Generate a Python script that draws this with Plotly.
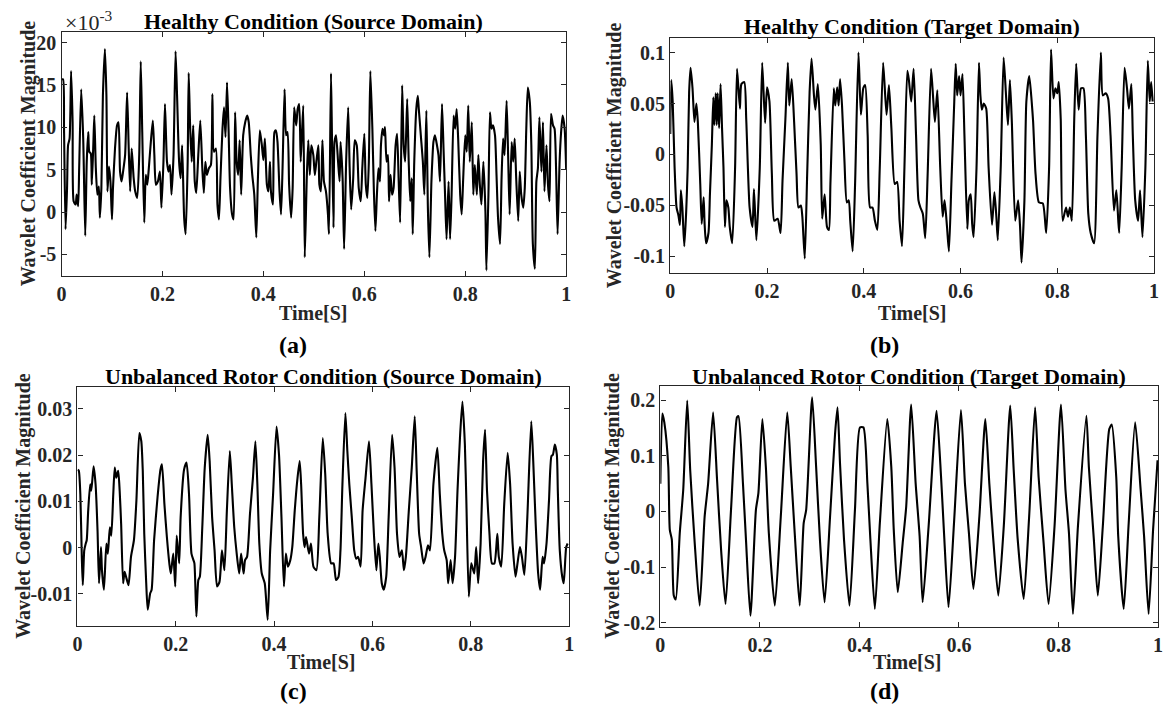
import plotly.graph_objects as go

# ---------------- data ----------------
# (a) Healthy condition, source domain  (values in units of 1e-3)
time_a = [
    0.000,0.003,0.005,0.008,0.011,0.013,0.016,0.019,0.022,0.024,
    0.028,0.030,0.033,0.035,0.039,0.043,0.047,0.050,0.053,0.055,
    0.058,0.060,0.063,0.065,0.068,0.071,0.074,0.076,0.079,0.082,
    0.086,0.089,0.091,0.094,0.097,0.100,0.102,0.106,0.110,0.113,
    0.116,0.119,0.122,0.126,0.130,0.133,0.136,0.139,0.143,0.146,
    0.150,0.154,0.157,0.160,0.164,0.167,0.170,0.173,0.177,0.181,
    0.184,0.187,0.191,0.195,0.198,0.202,0.205,0.209,0.212,0.215,
    0.218,0.222,0.226,0.229,0.233,0.236,0.239,0.243,0.246,0.250,
    0.252,0.255,0.258,0.261,0.264,0.267,0.271,0.275,0.279,0.282,
    0.285,0.288,0.292,0.296,0.299,0.302,0.306,0.309,0.312,0.315,
    0.319,0.322,0.325,0.328,0.331,0.334,0.338,0.341,0.344,0.347,
    0.350,0.353,0.356,0.360,0.364,0.368,0.371,0.375,0.378,0.382,
    0.386,0.389,0.393,0.397,0.400,0.403,0.407,0.410,0.413,0.415,
    0.419,0.422,0.425,0.428,0.432,0.435,0.438,0.442,0.445,0.448,
    0.451,0.455,0.458,0.461,0.465,0.468,0.471,0.474,0.479,0.482,
    0.486,0.489,0.492,0.495,0.499,0.502,0.505,0.509,0.511,0.514,
    0.517,0.520,0.524,0.528,0.530,0.534,0.536,0.539,0.541,0.544,
    0.548,0.551,0.553,0.557,0.560,0.564,0.568,0.571,0.574,0.578,
    0.581,0.585,0.589,0.593,0.596,0.600,0.603,0.606,0.609,0.612,
    0.616,0.619,0.622,0.625,0.628,0.631,0.633,0.636,0.639,0.641,
    0.644,0.647,0.649,0.652,0.655,0.658,0.662,0.665,0.668,0.671,
    0.675,0.678,0.681,0.685,0.688,0.691,0.694,0.696,0.699,0.703,
    0.706,0.708,0.712,0.716,0.719,0.723,0.726,0.729,0.733,0.735,
    0.737,0.740,0.744,0.747,0.750,0.754,0.757,0.760,0.763,0.767,
    0.770,0.773,0.777,0.780,0.783,0.786,0.790,0.793,0.796,0.800,
    0.803,0.806,0.809,0.813,0.816,0.819,0.823,0.826,0.829,0.832,
    0.836,0.840,0.842,0.846,0.849,0.852,0.855,0.859,0.862,0.865,
    0.869,0.872,0.875,0.878,0.882,0.885,0.888,0.892,0.895,0.898,
    0.901,0.905,0.908,0.911,0.915,0.918,0.921,0.924,0.928,0.931,
    0.934,0.938,0.941,0.944,0.947,0.951,0.954,0.957,0.961,0.964,
    0.967,0.970,0.974,0.977,0.980,0.983,0.987,0.990,0.993,0.997,
    1.000]
healthy_source_e3 = [
    15.67,15.67,9.84,-2.02,2.84,7.89,8.67,16.64,10.61,1.28,
    0.89,2.06,0.70,5.17,14.50,8.67,-2.80,5.95,9.45,7.12,
    6.92,3.23,7.89,11.39,5.17,2.06,3.03,-0.66,2.84,13.72,
    19.25,13.72,2.45,5.37,3.62,-0.86,2.84,7.50,10.23,10.61,
    4.78,3.62,4.78,6.73,14.11,7.89,2.45,7.50,4.00,2.45,
    1.67,6.73,17.81,9.45,-1.24,4.39,3.23,5.17,8.28,10.81,
    6.73,3.23,3.62,4.78,0.51,5.95,12.75,5.95,4.78,5.56,
    2.06,6.73,18.97,13.72,5.95,4.00,7.89,-0.66,-2.60,5.95,
    16.45,9.84,5.95,10.23,3.62,2.26,6.73,10.81,5.17,2.26,
    5.95,4.39,5.17,5.56,13.92,7.12,7.50,0.89,-0.86,4.00,
    9.84,12.36,8.86,15.28,9.84,2.84,-0.27,-0.86,11.78,5.95,
    4.39,8.48,2.06,9.06,10.61,11.39,10.61,6.73,4.39,2.06,
    -2.99,3.62,9.64,7.89,6.14,8.67,3.23,2.45,5.95,2.45,
    0.89,9.45,9.64,8.28,2.45,-0.27,5.17,14.50,9.06,9.45,
    3.23,-0.66,2.84,12.36,10.23,12.17,12.75,5.95,12.56,-5.33,
    4.00,8.48,4.39,7.89,6.73,4.39,5.95,7.89,3.23,2.45,
    8.48,3.62,2.45,-0.27,-2.60,16.37,8.67,-1.83,8.28,9.06,
    5.95,3.62,8.28,4.00,-4.35,5.95,12.36,5.17,0.31,4.00,
    8.48,7.89,2.84,1.28,5.17,9.25,3.23,1.67,5.95,16.64,
    9.84,2.45,-2.22,2.06,5.17,3.62,7.89,9.84,9.06,10.03,
    5.95,6.73,1.28,4.39,2.06,2.84,7.89,9.25,4.00,-1.24,
    14.97,7.89,5.95,13.34,5.95,1.28,4.00,-2.60,5.95,12.17,
    13.72,12.17,9.06,5.95,2.06,11.98,0.51,-5.33,3.62,6.34,
    8.28,9.06,7.89,6.73,3.62,12.75,7.50,2.06,-3.19,3.62,
    -3.19,2.06,11.39,9.84,12.17,8.67,2.06,-0.27,4.00,9.06,
    7.12,12.56,5.95,10.61,2.06,5.56,2.06,6.73,3.23,0.89,
    5.95,0.12,-6.88,2.06,11.78,9.84,10.23,9.06,4.39,-0.66,
    -3.77,4.00,8.67,6.73,13.14,6.73,-0.27,8.28,5.95,8.67,
    4.00,-1.05,4.78,2.06,0.51,2.84,9.84,14.70,12.95,7.89,
    -3.77,-6.69,3.62,5.17,11.20,4.78,10.61,2.45,7.89,3.23,
    1.28,11.59,10.23,9.84,5.17,-2.60,5.95,9.45,11.39,9.84,
    4.98]

# (b) Healthy condition, target domain
time_b = [
    0.000,0.002,0.005,0.009,0.013,0.017,0.020,0.022,0.025,0.029,
    0.033,0.036,0.039,0.042,0.046,0.050,0.054,0.057,0.062,0.065,
    0.069,0.071,0.074,0.079,0.082,0.086,0.089,0.091,0.094,0.096,
    0.098,0.101,0.104,0.107,0.110,0.113,0.116,0.120,0.123,0.128,
    0.134,0.138,0.144,0.147,0.153,0.157,0.164,0.170,0.173,0.178,
    0.185,0.190,0.196,0.200,0.205,0.210,0.215,0.222,0.228,0.232,
    0.238,0.243,0.246,0.251,0.256,0.261,0.265,0.270,0.273,0.278,
    0.283,0.288,0.292,0.297,0.300,0.305,0.311,0.314,0.319,0.324,
    0.328,0.331,0.338,0.341,0.345,0.348,0.351,0.355,0.360,0.365,
    0.369,0.372,0.377,0.382,0.389,0.394,0.399,0.403,0.408,0.413,
    0.418,0.423,0.428,0.433,0.440,0.447,0.452,0.457,0.464,0.469,
    0.474,0.479,0.484,0.490,0.493,0.498,0.503,0.508,0.513,0.517,
    0.522,0.527,0.532,0.539,0.543,0.547,0.552,0.558,0.563,0.567,
    0.572,0.576,0.581,0.587,0.590,0.593,0.597,0.600,0.604,0.608,
    0.614,0.617,0.621,0.624,0.627,0.633,0.638,0.641,0.644,0.648,
    0.653,0.658,0.665,0.670,0.674,0.677,0.683,0.689,0.694,0.698,
    0.702,0.706,0.713,0.719,0.723,0.726,0.732,0.736,0.742,0.747,
    0.750,0.755,0.762,0.770,0.777,0.783,0.787,0.792,0.796,0.800,
    0.803,0.807,0.811,0.818,0.822,0.826,0.830,0.835,0.839,0.844,
    0.849,0.854,0.859,0.864,0.869,0.876,0.883,0.890,0.894,0.900,
    0.905,0.910,0.917,0.922,0.926,0.928,0.933,0.939,0.944,0.948,
    0.953,0.956,0.961,0.967,0.971,0.976,0.982,0.987,0.991,0.994,
    0.997]
healthy_target = [
    0.020,0.073,0.052,-0.013,-0.052,-0.060,-0.069,-0.035,-0.052,-0.090,
    -0.055,-0.013,0.061,0.085,0.065,0.032,0.050,0.032,-0.029,-0.068,
    -0.042,-0.068,-0.087,-0.077,-0.039,0.010,0.056,0.029,0.060,0.029,
    0.060,0.026,0.069,0.026,-0.013,-0.071,-0.045,-0.052,-0.071,-0.087,
    -0.013,0.084,0.045,0.069,0.071,0.035,-0.052,-0.071,-0.034,-0.084,
    -0.013,0.090,0.031,0.066,0.052,-0.019,-0.065,-0.063,-0.077,-0.026,
    0.035,0.090,0.048,0.074,0.032,-0.019,-0.052,-0.050,-0.061,-0.102,
    -0.019,0.061,0.094,0.058,0.044,0.069,0.010,-0.063,-0.039,-0.071,
    -0.074,-0.029,0.065,0.048,0.066,0.048,0.074,0.048,-0.006,-0.047,
    -0.045,-0.065,-0.095,-0.029,0.100,0.039,0.065,0.068,0.019,-0.052,
    -0.052,-0.065,-0.074,-0.013,0.090,0.039,0.068,0.026,-0.029,-0.027,
    -0.065,-0.090,-0.013,0.082,0.074,0.052,0.084,0.019,-0.045,-0.052,
    -0.058,-0.082,-0.019,0.084,0.058,0.032,0.063,-0.013,-0.061,-0.045,
    -0.071,-0.095,-0.029,0.052,0.089,0.058,0.077,0.058,0.079,0.019,
    -0.073,-0.045,-0.039,-0.068,-0.081,-0.013,0.090,0.058,0.044,0.050,
    0.045,-0.013,-0.069,-0.037,-0.061,-0.084,-0.013,0.095,0.058,0.029,
    0.073,0.032,-0.065,-0.045,-0.071,-0.106,-0.045,0.052,0.077,0.052,
    0.032,-0.019,-0.047,-0.048,-0.077,-0.013,0.103,0.055,0.065,0.060,
    0.071,0.035,-0.065,-0.052,-0.061,-0.052,-0.065,0.035,0.089,0.044,
    0.065,0.065,0.019,-0.058,-0.077,-0.087,0.019,0.100,0.058,0.060,
    0.055,0.019,-0.055,-0.035,-0.065,-0.077,-0.013,0.085,0.065,0.045,
    0.069,0.019,-0.045,-0.065,-0.035,-0.081,-0.013,0.092,0.052,0.071,
    0.052]

# (c) Unbalanced rotor condition, source domain
time_c = [
    0.001,0.003,0.006,0.009,0.011,0.014,0.017,0.019,0.022,0.026,
    0.028,0.030,0.033,0.037,0.041,0.044,0.048,0.050,0.054,0.059,
    0.062,0.066,0.069,0.073,0.076,0.079,0.083,0.086,0.089,0.093,
    0.096,0.099,0.104,0.109,0.115,0.120,0.126,0.130,0.133,0.136,
    0.140,0.143,0.148,0.151,0.156,0.163,0.169,0.172,0.177,0.182,
    0.187,0.190,0.195,0.199,0.202,0.207,0.210,0.217,0.222,0.227,
    0.232,0.236,0.238,0.242,0.246,0.249,0.254,0.259,0.265,0.269,
    0.274,0.279,0.284,0.289,0.294,0.299,0.304,0.310,0.314,0.319,
    0.324,0.329,0.333,0.338,0.341,0.345,0.351,0.357,0.362,0.366,
    0.370,0.375,0.381,0.387,0.392,0.398,0.405,0.410,0.415,0.420,
    0.424,0.428,0.433,0.437,0.442,0.447,0.452,0.455,0.459,0.462,
    0.465,0.471,0.475,0.480,0.486,0.492,0.499,0.504,0.509,0.516,
    0.521,0.526,0.531,0.535,0.539,0.545,0.549,0.553,0.558,0.563,
    0.567,0.571,0.576,0.580,0.586,0.593,0.598,0.603,0.608,0.612,
    0.615,0.619,0.623,0.628,0.633,0.640,0.645,0.650,0.655,0.660,
    0.664,0.668,0.674,0.680,0.686,0.690,0.695,0.699,0.704,0.708,
    0.713,0.717,0.724,0.732,0.737,0.742,0.746,0.751,0.754,0.759,
    0.763,0.768,0.773,0.778,0.783,0.788,0.791,0.796,0.801,0.807,
    0.811,0.815,0.820,0.825,0.829,0.833,0.838,0.843,0.848,0.854,
    0.857,0.862,0.868,0.875,0.880,0.885,0.891,0.895,0.900,0.904,
    0.909,0.915,0.923,0.927,0.932,0.937,0.941,0.946,0.949,0.954,
    0.959,0.964,0.967,0.971,0.975,0.977,0.981,0.986,0.989,0.994,
    0.997]
unbalanced_source = [
    0.0169,0.0166,0.0116,-0.0020,-0.0081,-0.0006,0.0009,0.0016,0.0080,0.0137,
    0.0123,0.0141,0.0176,0.0137,0.0037,-0.0077,0.0001,-0.0049,-0.0091,0.0009,
    -0.0013,0.0044,0.0026,0.0116,0.0173,0.0151,0.0166,0.0123,0.0051,-0.0077,
    -0.0052,-0.0063,-0.0081,-0.0020,0.0016,0.0101,0.0248,0.0230,0.0166,0.0030,
    -0.0077,-0.0134,-0.0099,-0.0091,0.0016,0.0109,0.0169,0.0180,0.0094,0.0023,
    -0.0034,-0.0056,-0.0013,-0.0084,0.0026,-0.0034,0.0066,0.0169,0.0184,0.0116,
    -0.0013,-0.0027,-0.0034,-0.0149,-0.0070,-0.0063,0.0044,0.0173,0.0244,0.0187,
    0.0066,-0.0006,-0.0084,-0.0074,-0.0006,-0.0049,0.0080,0.0209,0.0137,0.0044,
    -0.0013,-0.0056,-0.0013,-0.0056,-0.0027,-0.0020,0.0073,0.0151,0.0230,0.0137,
    0.0009,-0.0056,-0.0077,-0.0156,-0.0006,0.0116,0.0262,0.0201,0.0066,-0.0084,
    -0.0013,-0.0041,-0.0027,0.0001,0.0080,0.0144,0.0187,0.0137,0.0030,0.0001,
    0.0023,-0.0013,0.0009,-0.0041,-0.0049,0.0066,0.0237,0.0159,0.0030,-0.0034,
    -0.0034,-0.0070,-0.0063,-0.0006,0.0137,0.0291,0.0209,0.0137,0.0066,-0.0006,
    -0.0024,-0.0020,-0.0041,0.0080,0.0151,0.0230,0.0137,0.0030,-0.0049,0.0009,
    -0.0020,-0.0077,-0.0091,-0.0063,0.0066,0.0244,0.0173,0.0030,-0.0020,-0.0006,
    -0.0049,-0.0020,0.0080,0.0173,0.0284,0.0166,0.0030,0.0001,-0.0034,-0.0020,
    0.0005,-0.0006,0.0137,0.0216,0.0116,0.0030,-0.0006,-0.0027,-0.0077,-0.0027,
    -0.0077,-0.0020,0.0123,0.0237,0.0316,0.0223,0.0101,-0.0106,-0.0034,-0.0056,
    0.0001,-0.0077,0.0009,0.0187,0.0255,0.0123,0.0030,-0.0034,-0.0034,0.0030,
    -0.0020,-0.0041,0.0094,0.0205,0.0137,0.0009,-0.0063,-0.0034,0.0001,-0.0020,
    -0.0059,0.0066,0.0273,0.0187,0.0051,-0.0056,-0.0091,-0.0020,-0.0034,0.0009,
    0.0101,0.0198,0.0201,0.0223,0.0201,0.0123,-0.0006,-0.0063,-0.0077,0.0001,
    0.0009]

# (d) Unbalanced rotor condition, target domain
time_d = [
    0.000,0.004,0.008,0.016,0.019,0.023,0.027,0.031,0.039,0.046,
    0.054,0.060,0.069,0.079,0.089,0.096,0.106,0.114,0.122,0.131,
    0.142,0.154,0.157,0.166,0.172,0.181,0.192,0.197,0.205,0.212,
    0.218,0.230,0.242,0.255,0.262,0.270,0.280,0.288,0.293,0.305,
    0.313,0.321,0.330,0.341,0.351,0.356,0.361,0.369,0.380,0.391,
    0.401,0.408,0.416,0.422,0.431,0.441,0.456,0.464,0.469,0.477,
    0.487,0.494,0.504,0.513,0.521,0.527,0.539,0.555,0.564,0.570,
    0.579,0.590,0.604,0.612,0.620,0.629,0.641,0.653,0.661,0.668,
    0.679,0.690,0.703,0.710,0.718,0.730,0.741,0.753,0.760,0.770,
    0.780,0.792,0.805,0.814,0.821,0.829,0.839,0.856,0.861,0.871,
    0.879,0.889,0.902,0.907,0.916,0.920,0.931,0.941,0.954,0.965,
    0.972,0.981,0.990,0.999]
unbalanced_target = [
    0.050,0.176,0.160,0.080,-0.033,-0.050,-0.151,-0.158,-0.039,0.039,
    0.199,0.074,-0.056,-0.169,-0.009,0.050,0.178,0.056,-0.068,-0.166,
    0.003,0.169,0.171,0.050,-0.050,-0.187,0.003,0.033,0.166,0.080,
    -0.039,-0.169,-0.009,0.178,0.080,-0.039,-0.169,-0.021,0.003,0.205,
    0.080,-0.056,-0.163,-0.009,0.139,0.187,0.086,-0.050,-0.169,0.003,
    0.151,0.151,0.050,-0.050,-0.175,-0.021,0.166,0.080,-0.033,-0.145,
    -0.056,0.009,0.192,0.050,-0.045,-0.163,-0.027,0.181,0.062,-0.039,
    -0.172,-0.021,0.182,0.050,-0.039,-0.139,-0.009,0.166,0.050,-0.039,
    -0.151,-0.027,0.190,0.074,-0.050,-0.157,-0.009,0.187,0.062,-0.056,
    -0.166,-0.027,0.192,0.039,-0.039,-0.184,-0.027,0.172,0.080,-0.050,
    -0.151,-0.027,0.148,0.156,0.062,-0.045,-0.175,-0.021,0.160,0.039,
    -0.045,-0.184,-0.033,0.092]

# ticks and texts
x_tick_vals = [0, 0.2, 0.4, 0.6, 0.8, 1]
x_tick_text = ["0", "0.2", "0.4", "0.6", "0.8", "1"]
y_ticks_a = [-5, 0, 5, 10, 15, 20]
y_text_a = ["-5", "0", "5", "10", "15", "20"]
y_ticks_b = [-0.1, -0.05, 0, 0.05, 0.1]
y_text_b = ["-0.1", "-0.05", "0", "0.05", "0.1"]
y_ticks_c = [-0.01, 0, 0.01, 0.02, 0.03]
y_text_c = ["-0.01", "0", "0.01", "0.02", "0.03"]
y_ticks_d = [-0.2, -0.1, 0, 0.1, 0.2]
y_text_d = ["-0.2", "-0.1", "0", "0.1", "0.2"]
titles = ["Healthy Condition (Source Domain)", "Healthy Condition (Target Domain)",
          "Unbalanced Rotor Condition (Source Domain)", "Unbalanced Rotor Condition (Target Domain)"]
panel_tags = ["(a)", "(b)", "(c)", "(d)"]
x_title = "Time[S]"
y_title = "Wavelet Coefficient Magnitude"
exponent_label = "×10<sup>-3</sup>"

# ---------------- figure ----------------
W, H = 1169, 713
FONT = "Liberation Serif"
AX = "#262626"

def px_x(p):
    return p / W

def px_y(p):
    return 1 - p / H

# plot boxes in pixels: left, right, top, bottom
boxes = [(57, 566, 32, 279), (671, 1159, 38, 276), (73, 569, 391, 632), (661, 1163, 390, 633)]
y_ranges = [[-7.57, 21.29], [-0.1165, 0.1146], [-0.0169, 0.0347], [-0.207, 0.225]]
y_ticks = [(y_ticks_a, y_text_a), (y_ticks_b, y_text_b), (y_ticks_c, y_text_c), (y_ticks_d, y_text_d)]
series = [(time_a, healthy_source_e3), (time_b, healthy_target),
          (time_c, unbalanced_source), (time_d, unbalanced_target)]

fig = go.Figure()
layout = dict(width=W, height=H, margin=dict(l=0, r=0, t=0, b=0),
              paper_bgcolor="white", plot_bgcolor="white", showlegend=False,
              font=dict(family=FONT, color=AX))

axis_common = dict(showline=True, linecolor=AX, linewidth=1.4, mirror="ticks",
                   ticks="inside", ticklen=5, tickwidth=1.2, tickcolor=AX,
                   showgrid=False, zeroline=False,
                   tickfont=dict(family=FONT, size=20, color=AX, weight="bold"))

annotations = []
for i, ((l, r, t, b), yr, (tv, tt), (xs, ys)) in enumerate(zip(boxes, y_ranges, y_ticks, series)):
    n = "" if i == 0 else str(i + 1)
    fig.add_trace(go.Scatter(x=xs, y=ys, mode="lines",
                             line=dict(color="black", width=2.1, shape="spline", smoothing=0.6),
                             xaxis="x" + n, yaxis="y" + n, hoverinfo="skip"))
    layout["xaxis" + n] = dict(axis_common, domain=[px_x(l), px_x(r)], range=[0, 1],
                               tickvals=x_tick_vals, ticktext=x_tick_text, anchor="y" + n)
    layout["yaxis" + n] = dict(axis_common, domain=[px_y(b), px_y(t)], range=yr,
                               tickvals=tv, ticktext=tt, anchor="x" + n)

# text positions (pixels)
title_pos = [(311, 22), (915, 27), (321, 380), (912, 380)]
ylab_pos = [(24, 155), (615, 157), (19, 511), (613, 511)]
xlab_pos = [(311, 316), (915, 316), (319, 669), (910, 669)]
tag_pos = [(290, 348), (887, 348), (291, 698), (887, 698)]

for i in range(4):
    annotations.append(dict(text=titles[i], x=px_x(title_pos[i][0]), y=px_y(title_pos[i][1]),
                            xref="paper", yref="paper", xanchor="center", yanchor="middle",
                            showarrow=False, font=dict(family=FONT, size=22, color="black", weight="bold")))
    annotations.append(dict(text=y_title, x=px_x(ylab_pos[i][0]), y=px_y(ylab_pos[i][1]),
                            xref="paper", yref="paper", xanchor="center", yanchor="middle",
                            textangle=-90, showarrow=False,
                            font=dict(family=FONT, size=20, color=AX, weight="bold")))
    annotations.append(dict(text=x_title, x=px_x(xlab_pos[i][0]), y=px_y(xlab_pos[i][1]),
                            xref="paper", yref="paper", xanchor="center", yanchor="middle",
                            showarrow=False, font=dict(family=FONT, size=20, color=AX, weight="bold")))
    annotations.append(dict(text=panel_tags[i], x=px_x(tag_pos[i][0]), y=px_y(tag_pos[i][1]),
                            xref="paper", yref="paper", xanchor="center", yanchor="middle",
                            showarrow=False, font=dict(family=FONT, size=24, color="black", weight="bold")))

annotations.append(dict(text=exponent_label, x=px_x(58), y=px_y(21),
                        xref="paper", yref="paper", xanchor="left", yanchor="middle",
                        showarrow=False, font=dict(family=FONT, size=22, color=AX)))

layout["annotations"] = annotations
fig.update_layout(**layout)
fig.write_html("out.html")
